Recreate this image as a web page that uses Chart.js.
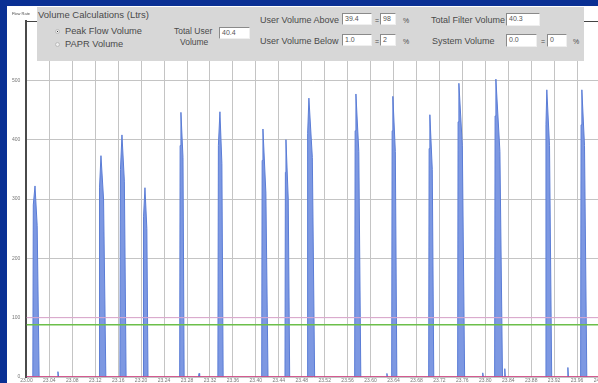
<!DOCTYPE html>
<html>
<head>
<meta charset="utf-8">
<script src="https://cdn.jsdelivr.net/npm/chart.js@4.4.1/dist/chart.umd.min.js"></script>
<style>
html, body { margin: 0; padding: 0; width: 598px; height: 383px; overflow: hidden; background: #0a3094; }
#wrap { position: absolute; left: 7px; top: 6px; width: 620px; height: 380px; background: #fff; }
canvas { display: block; }
.ui { font-family: 'Liberation Sans', Arial, sans-serif; color: #4a4a4a; }
.panel { position: absolute; left: 37px; top: 7px; width: 547px; height: 54px; background: #d7d7d7; }
.t { position: absolute; font-size: 9px; line-height: 1; white-space: nowrap; }
.box { position: absolute; background: #fff; box-sizing: border-box; border-top: 1px solid #8a8a8a; border-left: 1px solid #8a8a8a;
       border-right: 1px solid #efefef; border-bottom: 1px solid #efefef; font-size: 7px; line-height: 9px; padding-left: 2px; color: #555; }
.radio { position: absolute; width: 5px; height: 5px; border-radius: 50%; background: #eee; box-sizing: border-box; border: 1px solid #bbb; }
.radio.on::after { content: ''; position: absolute; left: 1px; top: 1px; width: 1px; height: 1px; background: #333; }
</style>
</head>
<body>
<div id="wrap"><canvas id="flowChart" width="620" height="380"></canvas></div>

<div class="ui">
  <span class="t" style="left:12px;top:12px;font-size:4px;">Flow Rate</span>
  <div class="panel"></div>
  <span class="t" style="left:38px;top:10px;font-size:9.5px;">Volume Calculations (Ltrs)</span>

  <span class="radio on" style="left:55px;top:29px;"></span>
  <span class="t" style="left:65px;top:27px;font-size:9.3px;">Peak Flow Volume</span>
  <span class="radio" style="left:55px;top:42px;"></span>
  <span class="t" style="left:65px;top:40px;font-size:9.3px;">PAPR Volume</span>

  <span class="t" style="left:174px;top:27px;font-size:8.5px;">Total User</span>
  <span class="t" style="left:180px;top:38px;font-size:8.5px;">Volume</span>
  <div class="box" style="left:219px;top:27px;width:31px;height:12px;">40.4</div>

  <span class="t" style="left:260px;top:16px;">User Volume Above</span>
  <div class="box" style="left:342px;top:13px;width:30px;height:12px;">39.4</div>
  <span class="t" style="left:375px;top:17px;font-size:7px;">=</span>
  <div class="box" style="left:380px;top:13px;width:16px;height:12px;">98</div>
  <span class="t" style="left:403px;top:17px;font-size:7px;">%</span>

  <span class="t" style="left:260px;top:37px;">User Volume Below</span>
  <div class="box" style="left:342px;top:34px;width:30px;height:12px;">1.0</div>
  <span class="t" style="left:375px;top:38px;font-size:7px;">=</span>
  <div class="box" style="left:380px;top:34px;width:16px;height:12px;">2</div>
  <span class="t" style="left:403px;top:38px;font-size:7px;">%</span>

  <span class="t" style="left:431px;top:16px;">Total Filter Volume</span>
  <div class="box" style="left:506px;top:13px;width:34px;height:13px;">40.3</div>

  <span class="t" style="left:432px;top:37px;">System Volume</span>
  <div class="box" style="left:506px;top:34px;width:31px;height:13px;">0.0</div>
  <span class="t" style="left:541px;top:38px;font-size:7px;">=</span>
  <div class="box" style="left:547px;top:34px;width:20px;height:13px;">0</div>
  <span class="t" style="left:573px;top:38px;font-size:7px;">%</span>
</div>

<script>
// Flow trace: time stamps and flow rate, one breath per line
const flowTimes = [
  23.0000,
  23.0112, 23.0120, 23.0150, 23.0188, 23.0222,
  23.0540, 23.0550, 23.0562,
  23.1266, 23.1275, 23.1300, 23.1345, 23.1385,
  23.1630, 23.1640, 23.1666, 23.1708, 23.1738,
  23.2034, 23.2042, 23.2067, 23.2100, 23.2120,
  23.2672, 23.2680, 23.2694, 23.2730, 23.2750,
  23.3000, 23.3010, 23.3020,
  23.3338, 23.3347, 23.3374, 23.3408, 23.3430,
  23.4102, 23.4110, 23.4124, 23.4175, 23.4212,
  23.4508, 23.4515, 23.4525, 23.4565, 23.4590,
  23.4893, 23.4903, 23.4925, 23.4985, 23.5025,
  23.5723, 23.5731, 23.5745, 23.5795, 23.5830,
  23.6275, 23.6285, 23.6295,
  23.6368, 23.6376, 23.6389, 23.6432, 23.6458,
  23.7013, 23.7021, 23.7034, 23.7076, 23.7102,
  23.7518, 23.7526, 23.7540, 23.7600, 23.7640,
  23.7945, 23.7956, 23.7967,
  23.8163, 23.8171, 23.8185, 23.8255, 23.8300,
  23.8330, 23.8340, 23.8350,
  23.9050, 23.9058, 23.9073, 23.9120, 23.9158,
  23.9430, 23.9440, 23.9450,
  23.9662, 23.9670, 23.9684, 23.9730, 23.9770,
  24.0000
];
const flowRates = [
  0,
  0, 290, 322, 255, 0,
  0, 9, 0,
  0, 320, 373, 300, 0,
  0, 350, 408, 330, 0,
  0, 270, 319, 250, 0,
  0, 390, 446, 370, 0,
  0, 6, 0,
  0, 390, 447, 360, 0,
  0, 365, 418, 310, 0,
  0, 345, 400, 300, 0,
  0, 410, 470, 370, 0,
  0, 415, 477, 380, 0,
  0, 6, 0,
  0, 415, 473, 380, 0,
  0, 385, 442, 350, 0,
  0, 430, 495, 390, 0,
  0, 7, 0,
  0, 440, 502, 380, 0,
  0, 14, 0,
  0, 425, 484, 390, 0,
  0, 16, 0,
  0, 425, 484, 390, 0,
  0
];

// Horizontal reference levels across the whole time span
const levelSpan = [23.00, 24.00];
const greenLevel = [88, 88];
const pinkLevel = [100, 100];
const baseLevel = [0, 0];

// Axis ticks
const timeMin = 23.00, timeMax = 24.00, timeStep = 0.04;
const flowMax = 600, flowStep = 100;

const toPoints = (xs, ys) => xs.map((x, i) => ({ x: x, y: ys[i] }));

Chart.defaults.font.family = "'Liberation Sans', Arial, sans-serif";
Chart.defaults.font.size = 5;
Chart.defaults.color = '#777';

const ctx = document.getElementById('flowChart').getContext('2d');

new Chart(ctx, {
    type: 'line',
    data: {
        datasets: [
            { data: toPoints(levelSpan, baseLevel), borderColor: '#e23a72', borderWidth: 1.5 },
            { data: toPoints(levelSpan, greenLevel), borderColor: '#6cbf4a', borderWidth: 1.5 },
            { data: toPoints(levelSpan, pinkLevel), borderColor: '#dea6cf', borderWidth: 1 },
            {
                data: toPoints(flowTimes, flowRates),
                borderColor: '#5b7dd6',
                backgroundColor: '#7d98e2',
                borderWidth: 1,
                fill: 'origin'
            }
        ]
    },
    options: {
        responsive: false,
        animation: false,
        devicePixelRatio: 1,
        layout: { padding: { top: 15, right: 27, left: 0, bottom: 0 } },
        elements: { point: { radius: 0 }, line: { tension: 0 } },
        plugins: { legend: { display: false }, tooltip: { enabled: false } },
        scales: {
            x: {
                type: 'linear',
                min: timeMin,
                max: timeMax,
                afterFit: s => { s.height = 9; },
                border: { display: false },
                grid: { color: '#c4c4c4', drawTicks: false },
                ticks: {
                    stepSize: timeStep,
                    autoSkip: false,
                    maxRotation: 0,
                    padding: 1,
                    callback: v => v.toFixed(2)
                }
            },
            y: {
                min: 0,
                max: flowMax,
                afterFit: s => { s.width = 19.4; },
                border: { color: '#4a4a4a', width: 2 },
                grid: {
                    drawTicks: false,
                    color: c => (c.tick && c.tick.value === flowMax) ? '#444' : '#c4c4c4'
                },
                ticks: {
                    stepSize: flowStep,
                    padding: 6,
                    callback: v => v === flowMax ? '' : v
                }
            }
        }
    }
});
</script>
</body>
</html>
